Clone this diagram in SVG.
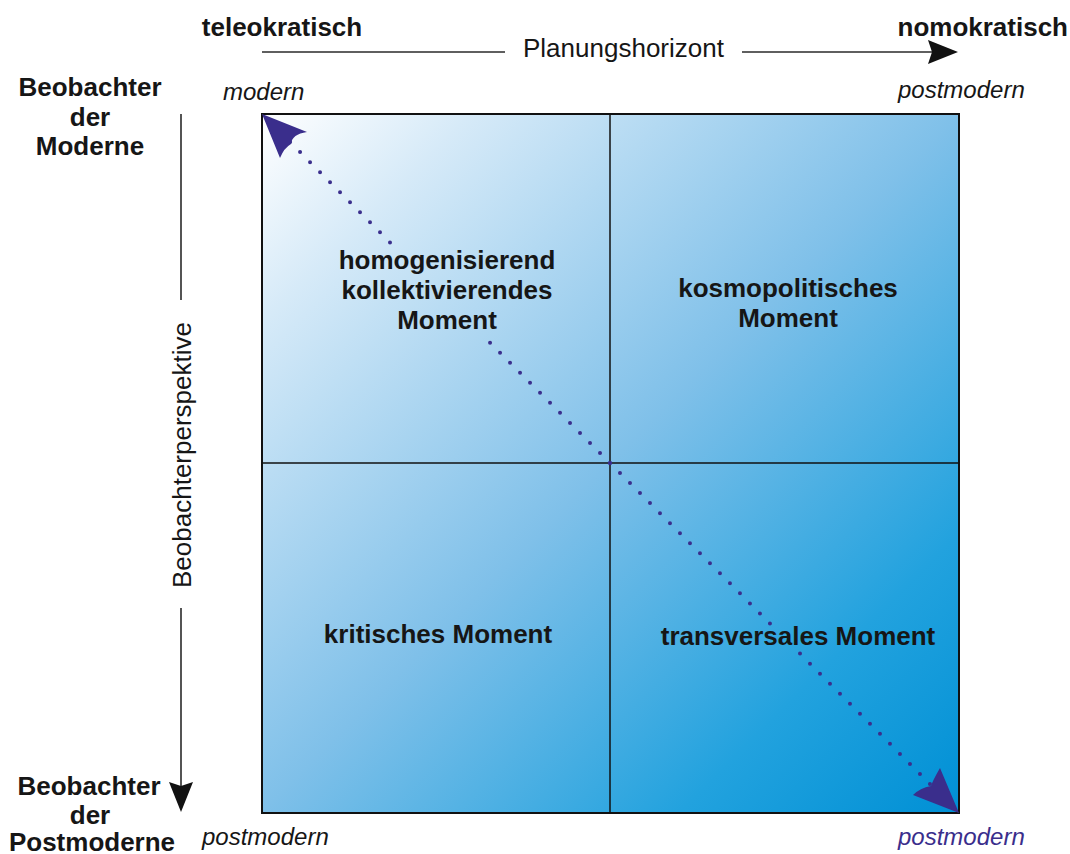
<svg xmlns="http://www.w3.org/2000/svg" width="1070" height="854" viewBox="0 0 1070 854">
<style>
.b{font-family:"Liberation Sans",Arial,sans-serif;font-weight:bold;font-size:26px;fill:#161616;text-anchor:middle}
.r{font-family:"Liberation Sans",Arial,sans-serif;font-size:26px;fill:#161616}
.i{font-family:"Liberation Sans",Arial,sans-serif;font-style:italic;font-size:24px;fill:#161616}
.ax{stroke:#2a2a2a;stroke-width:1.6;fill:none}
.dot{stroke:#3a2e8c;stroke-width:4;stroke-linecap:round;stroke-dasharray:0 14.16;fill:none}
</style>
<defs>
<linearGradient id="g" x1="262" y1="114" x2="959" y2="813" gradientUnits="userSpaceOnUse">
<stop offset="0" stop-color="#ffffff"/>
<stop offset="0.15" stop-color="#d6eaf8"/>
<stop offset="0.5" stop-color="#7fc0e9"/>
<stop offset="0.8" stop-color="#22a2de"/>
<stop offset="1" stop-color="#0090d5"/>
</linearGradient>
</defs>
<g id="matrix">
<rect x="262" y="114" width="697" height="699" fill="url(#g)" stroke="#111" stroke-width="2"/>
<line x1="610" y1="114" x2="610" y2="813" stroke="#111" stroke-width="1.5"/>
<line x1="262" y1="463" x2="959" y2="463" stroke="#111" stroke-width="1.5"/>
</g>
<g id="axis-top">
<text class="b" x="282" y="36">teleokratisch</text>
<text class="b" x="1068" y="36" style="text-anchor:end">nomokratisch</text>
<line class="ax" x1="262" y1="52" x2="505" y2="52"/>
<text class="r" x="523" y="57">Planungshorizont</text>
<line class="ax" x1="742" y1="52" x2="932" y2="52"/>
<polygon points="958,52 928,40 932,52 928,64" fill="#111"/>
</g>
<g id="axis-left">
<line class="ax" x1="181" y1="114" x2="181" y2="300"/>
<text class="r" transform="translate(191,455) rotate(-90)" style="text-anchor:middle">Beobachterperspektive</text>
<line class="ax" x1="181" y1="608" x2="181" y2="786"/>
<polygon points="181,812 169,782 181,786 193,782" fill="#111"/>
</g>
<g id="label-moderne">
<text class="b" x="90" y="96">Beobachter</text>
<text class="b" x="90" y="126">der</text>
<text class="b" x="90" y="155">Moderne</text>
</g>
<g id="label-postmoderne">
<text class="b" x="89" y="795">Beobachter</text>
<text class="b" x="90" y="824">der</text>
<text class="b" x="92" y="851">Postmoderne</text>
</g>
<g id="corner-labels">
<text class="i" x="223" y="100">modern</text>
<text class="i" x="898" y="98">postmodern</text>
<text class="i" x="202" y="845">postmodern</text>
<text class="i" x="898" y="845" style="fill:#3a2e8c">postmodern</text>
</g>
<g id="connectors">
<line class="dot" x1="610" y1="463" x2="490" y2="342.6"/>
<line class="dot" x1="390" y1="242.4" x2="290" y2="142"/>
<line class="dot" x1="610" y1="463" x2="770" y2="623.5"/>
<line class="dot" x1="800" y1="653.6" x2="930" y2="784"/>
<path d="M262,114 L307,132 Q292,134 291,144 Q284,148 280,158 Z" fill="#3a2e8c"/>
<path d="M959,813 L940,768 Q933,780 931,786 Q920,788 913,795 Z" fill="#3a2e8c"/>
</g>
<g id="q1">
<text class="b" x="447" y="269">homogenisierend</text>
<text class="b" x="447" y="299">kollektivierendes</text>
<text class="b" x="447" y="329">Moment</text>
</g>
<g id="q2">
<text class="b" x="788" y="297">kosmopolitisches</text>
<text class="b" x="788" y="327">Moment</text>
</g>
<g id="q3">
<text class="b" x="438" y="643">kritisches Moment</text>
</g>
<g id="q4">
<text class="b" x="798" y="645">transversales Moment</text>
</g>
</svg>
